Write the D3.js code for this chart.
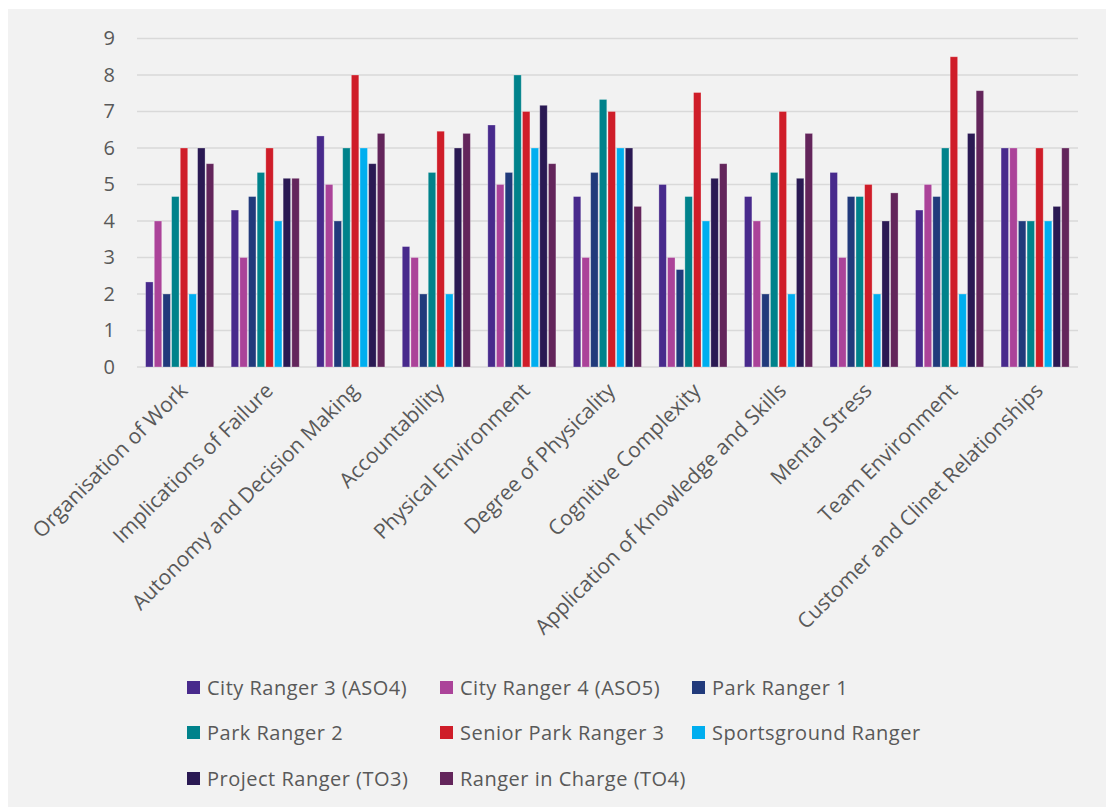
<!DOCTYPE html>
<html>
<head>
<meta charset="utf-8">
<script src="https://cdn.jsdelivr.net/npm/d3@7/dist/d3.min.js"></script>
<style>
  html, body { margin: 0; padding: 0; background: #ffffff; }
  svg { display: block; }
  text { font-family: "Open Sans", "DejaVu Sans", sans-serif; fill: #595959; }
</style>
</head>
<body>
<svg id="chart" width="1106" height="807"></svg>
<script>
const categories = [
  "Organisation of Work", "Implications of Failure", "Autonomy and Decision Making",
  "Accountability", "Physical Environment", "Degree of Physicality",
  "Cognitive Complexity", "Application of Knowledge and Skills", "Mental Stress",
  "Team Environment", "Customer and Clinet Relationships"
];
const seriesNames = [
  "City Ranger 3 (ASO4)", "City Ranger 4 (ASO5)", "Park Ranger 1", "Park Ranger 2",
  "Senior Park Ranger 3", "Sportsground Ranger", "Project Ranger (TO3)", "Ranger in Charge (TO4)"
];
const seriesColors = ["#482a8c", "#ab4399", "#213a7b", "#00828b", "#cf1d29", "#00aeef", "#2a1953", "#63255b"];

const cityRanger3     = [2.33, 4.3, 6.33, 3.3, 6.63, 4.67, 5.0, 4.67, 5.33, 4.3, 6.0];
const cityRanger4     = [4.0, 3.0, 5.0, 3.0, 5.0, 3.0, 3.0, 4.0, 3.0, 5.0, 6.0];
const parkRanger1     = [2.0, 4.67, 4.0, 2.0, 5.33, 5.33, 2.67, 2.0, 4.67, 4.67, 4.0];
const parkRanger2     = [4.67, 5.33, 6.0, 5.33, 8.0, 7.33, 4.67, 5.33, 4.67, 6.0, 4.0];
const seniorRanger3   = [6.0, 6.0, 8.0, 6.46, 7.0, 7.0, 7.52, 7.0, 5.0, 8.5, 6.0];
const sportsground    = [2.0, 4.0, 6.0, 2.0, 6.0, 6.0, 4.0, 2.0, 2.0, 2.0, 4.0];
const projectRanger   = [6.0, 5.17, 5.57, 6.0, 7.17, 6.0, 5.17, 5.17, 4.0, 6.4, 4.4];
const rangerInCharge  = [5.57, 5.17, 6.4, 6.4, 5.57, 4.4, 5.57, 6.4, 4.77, 7.57, 6.0];
const seriesValues = [cityRanger3, cityRanger4, parkRanger1, parkRanger2, seniorRanger3, sportsground, projectRanger, rangerInCharge];
const yTicks = [0, 1, 2, 3, 4, 5, 6, 7, 8, 9];

const svg = d3.select("#chart");
svg.append("rect").attr("x", 8).attr("y", 9).attr("width", 1098).attr("height", 798).attr("fill", "#f2f2f2");

const x0 = d3.scaleBand().domain(categories).range([137, 1078]).paddingInner(0.19).paddingOuter(0.095);
const x1 = d3.scaleBand().domain(seriesNames).range([0, x0.bandwidth()]).padding(0);
const y = d3.scaleLinear().domain([0, 9]).range([367, 38.5]);
const color = d3.scaleOrdinal().domain(seriesNames).range(seriesColors);

// gridlines
svg.append("g").selectAll("line").data(yTicks).join("line")
  .attr("x1", 137).attr("x2", 1078)
  .attr("y1", d => y(d)).attr("y2", d => y(d))
  .attr("stroke", "#d9d9d9").attr("stroke-width", 1.4);

// y axis
const yAxis = d3.axisLeft(y).tickValues(yTicks).tickSize(0).tickPadding(0).tickFormat(d3.format("d"));
const gy = svg.append("g").attr("transform", "translate(115,0)").call(yAxis);
gy.select(".domain").remove();
gy.selectAll("text").attr("font-size", 20).attr("fill", "#595959")
  .style("font-family", '"Open Sans", sans-serif');

// bars
const rows = categories.map((c, i) => ({ cat: c, vals: seriesNames.map((s, j) => ({ s, v: seriesValues[j][i] })) }));
const groups = svg.append("g").selectAll("g").data(rows).join("g")
  .attr("transform", d => `translate(${x0(d.cat)},0)`);
groups.selectAll("rect").data(d => d.vals).join("rect")
  .attr("x", d => x1(d.s) + 0.5)
  .attr("width", x1.bandwidth() - 1.2)
  .attr("y", d => y(d.v))
  .attr("height", d => y(0) - y(d.v))
  .attr("fill", d => color(d.s))
  .attr("stroke", "rgba(255,255,255,0.35)")
  .attr("stroke-width", 0.8);

// x axis labels
const xAxis = d3.axisBottom(x0).tickSize(0).tickPadding(0);
const gx = svg.append("g").attr("transform", "translate(0,367)").call(xAxis);
gx.select(".domain").remove();
gx.selectAll(".tick text")
  .attr("font-size", 21).attr("fill", "#595959")
  .style("font-family", '"Open Sans", sans-serif')
  .attr("text-anchor", "end")
  .attr("x", 0).attr("y", 0).attr("dy", null)
  .attr("transform", "translate(9,25) rotate(-45)");

// legend
const legendCols = [187, 440, 692];
const legendRows = [688, 733, 779];
const legend = svg.append("g").selectAll("g").data(seriesNames).join("g")
  .attr("transform", (d, i) => `translate(${legendCols[i % 3]},${legendRows[Math.floor(i / 3)]})`);
legend.append("rect").attr("x", 0).attr("y", -7).attr("width", 13).attr("height", 13).attr("fill", d => color(d));
legend.append("text").attr("x", 20).attr("y", 0).attr("dy", "0.35em")
  .attr("font-size", 20).style("letter-spacing", "0.5px").attr("fill", "#595959").text(d => d);
</script>
</body>
</html>
